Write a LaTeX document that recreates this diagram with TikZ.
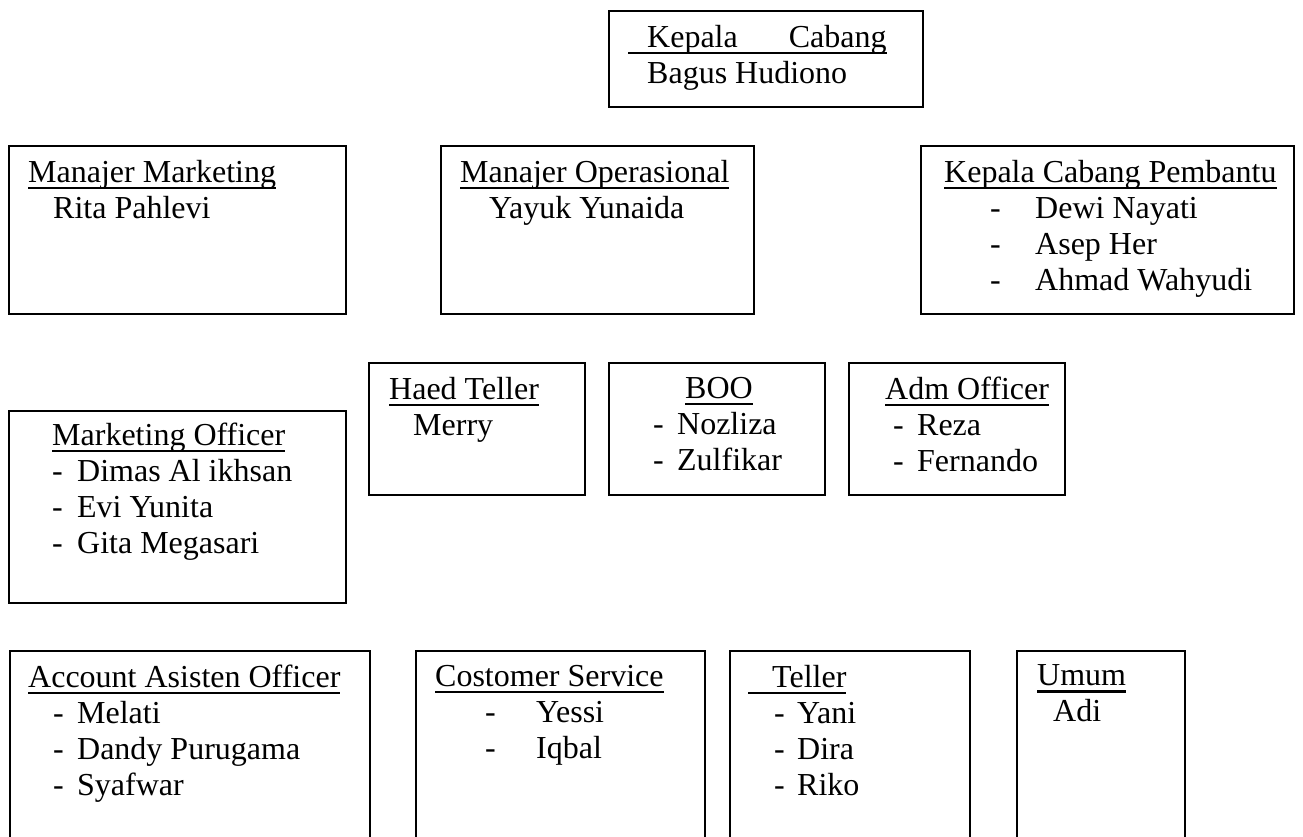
\documentclass[tikz,border=0pt]{standalone}
\usepackage{fontspec}
\setmainfont{Liberation Serif}
\usepackage{tikz}

\newcommand{\bagfont}{\fontsize{32}{36}\selectfont}
\newsavebox{\undlbox}
\newcommand{\undl}[1]{\sbox{\undlbox}{#1}\rlap{\rule[-6.8pt]{\wd\undlbox}{2.3pt}}\usebox{\undlbox}}
\newcommand{\dsh}[1]{\makebox[#1][l]{-}}

\begin{document}
\begin{tikzpicture}[x=1pt, y=-1pt,
  box/.style={draw, line width=1.8pt, anchor=north west, inner sep=0pt},
  txt/.style={anchor=north west, inner sep=0pt, align=left, font=\bagfont,
    execute at begin node=\strut}]
 \useasboundingbox (0,0) rectangle (1303,836);
 \clip (0,0) rectangle (1303,836);
 % kepala cabang
 \node [box, minimum width=314pt, minimum height=96pt] (kc) at (608,10) {};
 \node [txt] (kctext) at (628,24.8)
  {\undl{\hspace*{19pt}Kepala\hspace*{51pt}Cabang}\\ \hspace*{19pt}Bagus Hudiono};
 % manajer
 \node [box, minimum width=337pt, minimum height=168pt] (mm) at (8,145) {};
 \node [box, minimum width=313pt, minimum height=168pt] (mop) at (440,145) {};
 \node [box, minimum width=373pt, minimum height=168pt] (kcp) at (920,145) {};
 \node [txt] (mmtext) at (28,159.8)
  {\undl{Manajer Marketing}\\ \hspace*{25pt}Rita Pahlevi};
 \node [txt] (moptext) at (460,159.8)
  {\undl{Manajer Operasional}\\ \hspace*{29pt}Yayuk Yunaida};
 \node [txt] (kcptext) at (944,159.8)
  {\undl{Kepala Cabang Pembantu}\\
   \hspace*{46pt}\dsh{45pt}Dewi Nayati\\
   \hspace*{46pt}\dsh{45pt}Asep Her\\
   \hspace*{46pt}\dsh{45pt}Ahmad Wahyudi};
 % operasional
 \node [box, minimum width=216pt, minimum height=132pt] (ht) at (368,362) {};
 \node [box, minimum width=216pt, minimum height=132pt] (boo) at (608,362) {};
 \node [box, minimum width=216pt, minimum height=132pt] (adm) at (848,362) {};
 \node [txt] (httext) at (389,376.8)
  {\undl{Haed Teller}\\ \hspace*{24pt}Merry};
 \node [txt] (bootext) at (653,376.8)
  {\hspace*{32pt}\undl{BOO}\\ \dsh{24pt}Nozliza\\ \dsh{24pt}Zulfikar};
 \node [txt] (admtext) at (885,376.8)
  {\undl{Adm Officer}\\ \hspace*{8pt}\dsh{24pt}Reza\\ \hspace*{8pt}\dsh{24pt}Fernando};
 % marketing officer
 \node [box, minimum width=337pt, minimum height=192pt] (mof) at (8,410) {};
 \node [txt] (moftext) at (52,422.8)
  {\undl{Marketing Officer}\\ \dsh{25pt}Dimas Al ikhsan\\
   \dsh{25pt}Evi Yunita\\ \dsh{25pt}Gita Megasari};
 % bottom row
 \node [box, minimum width=360pt, minimum height=250pt] (aao) at (9,650) {};
 \node [box, minimum width=289pt, minimum height=250pt] (cs) at (415,650) {};
 \node [box, minimum width=240pt, minimum height=250pt] (tel) at (729,650) {};
 \node [box, minimum width=168pt, minimum height=250pt] (umum) at (1016,650) {};
 \node [txt] (aaotext) at (28,664.8)
  {\undl{Account Asisten Officer}\\ \hspace*{25pt}\dsh{24pt}Melati\\
   \hspace*{25pt}\dsh{24pt}Dandy Purugama\\ \hspace*{25pt}\dsh{24pt}Syafwar};
 \node [txt] (cstext) at (435,664.8)
  {\undl{Costomer Service}\\ \hspace*{50pt}\dsh{51pt}Yessi\\
   \hspace*{50pt}\dsh{51pt}Iqbal};
 \node [txt] (teltext) at (748,664.8)
  {\undl{\hspace*{24pt}Teller}\\ \hspace*{26pt}\dsh{23pt}Yani\\
   \hspace*{26pt}\dsh{23pt}Dira\\ \hspace*{26pt}\dsh{23pt}Riko};
 \node [txt] (umumtext) at (1037,664.8)
  {\undl{Umum}\\ \hspace*{16pt}Adi};
\end{tikzpicture}
\end{document}
